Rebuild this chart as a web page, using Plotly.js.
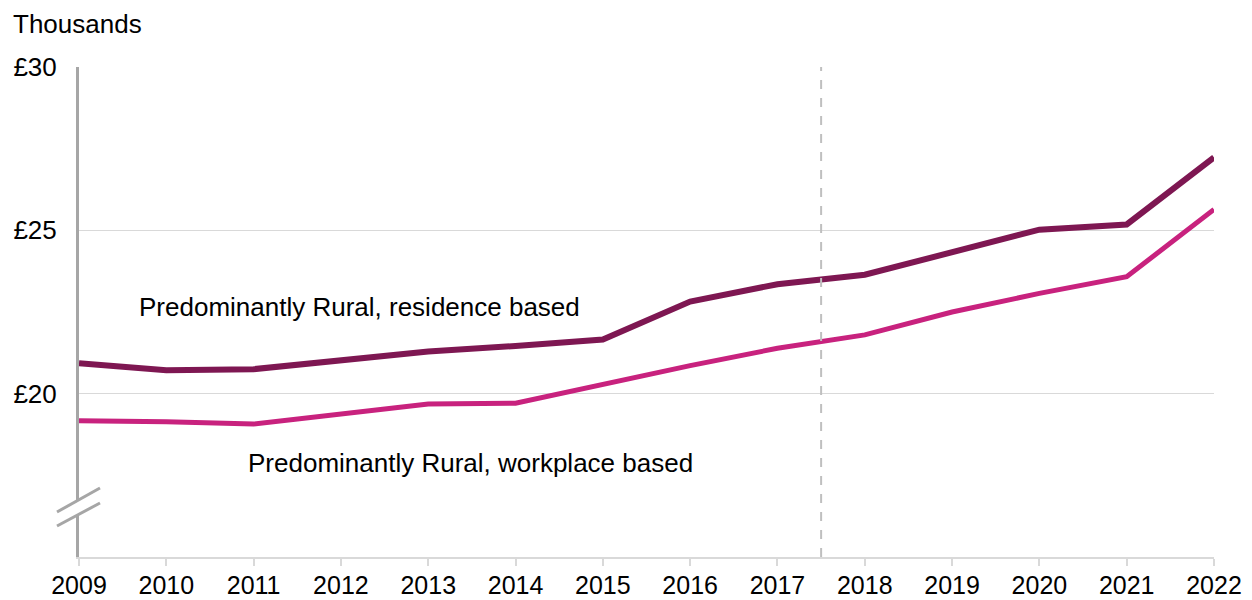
<!DOCTYPE html>
<html><head><meta charset="utf-8">
<script src="https://cdn.plot.ly/plotly-3.0.1.min.js"></script>
<style>html,body{margin:0;padding:0;background:#fff}#chart{width:1252px;height:600px}</style>
</head><body><div id="chart"></div>
<script>
const years = [2009,2010,2011,2012,2013,2014,2015,2016,2017,2018,2019,2020,2021,2022];
const residence = [20.93,20.72,20.75,21.02,21.29,21.46,21.66,22.82,23.35,23.64,24.33,25.02,25.18,27.23];
const workplace = [19.17,19.14,19.07,19.36,19.68,19.71,20.29,20.86,21.39,21.80,22.50,23.07,23.58,25.64];
const tickYears = years.map(String);
const yTickVals = [20,25,30];
const yTickText = ['£20','£25','£30'];
const seriesNames = ['Predominantly Rural, residence based','Predominantly Rural, workplace based'];
const dividerYear = 2017.5;

const L = 79, R = 1214, T = 67, B = 557;
const px = x => (x - L) / (R - L);
const py = y => (B - y) / (B - T);

const traces = [
  {x: years, y: residence, type:'scatter', mode:'lines', name: seriesNames[0],
   line:{color:'#7E1752', width:6}},
  {x: years, y: workplace, type:'scatter', mode:'lines', name: seriesNames[1],
   line:{color:'#C8227E', width:5}}
];

const font = {family:'"Liberation Sans", Arial, sans-serif', size:26, color:'#000'};
const xfont = {family:'"Liberation Sans", Arial, sans-serif', size:25, color:'#000'};

const layout = {
  width:1252, height:600,
  margin:{l:L, r:1252-R, t:T, b:600-B},
  paper_bgcolor:'#fff', plot_bgcolor:'#fff',
  showlegend:false,
  font: font,
  xaxis:{range:[2009,2022], tickvals:years, ticktext:tickYears,
    showgrid:false, zeroline:false, showline:true, linecolor:'#d9d9d9', linewidth:2,
    ticks:'outside', ticklen:7, tickcolor:'#d9d9d9', tickwidth:2, ticklabelstandoff:-2,
    tickfont:xfont, fixedrange:true},
  yaxis:{range:[15,30], tickvals:yTickVals, ticktext:yTickText,
    showgrid:true, gridcolor:'#d9d9d9', gridwidth:1.5, zeroline:false,
    showline:true, linecolor:'#a6a6a6', linewidth:3, ticks:'', ticklabelstandoff:14,
    tickfont:font, fixedrange:true},
  shapes:[
    {type:'line', xref:'x', yref:'paper', x0:dividerYear, x1:dividerYear, y0:0, y1:1,
     line:{color:'#bfbfbf', width:2, dash:'dash'}},
    {type:'path', xref:'paper', yref:'paper',
     path:`M ${px(57)} ${py(512)} L ${px(100)} ${py(488)} L ${px(100)} ${py(503)} L ${px(57)} ${py(526)} Z`,
     fillcolor:'#fff', line:{width:0}},
    {type:'line', xref:'paper', yref:'paper', x0:px(57), y0:py(512), x1:px(100), y1:py(488),
     line:{color:'#a6a6a6', width:3}},
    {type:'line', xref:'paper', yref:'paper', x0:px(57), y0:py(526), x1:px(100), y1:py(503),
     line:{color:'#a6a6a6', width:3}}
  ],
  annotations:[
    {text:'Thousands', xref:'paper', yref:'paper', x:px(11), y:py(24), xanchor:'left', yanchor:'middle',
     showarrow:false, font:font},
    {text:seriesNames[0], xref:'paper', yref:'paper', x:px(137), y:py(307), xanchor:'left', yanchor:'middle',
     showarrow:false, font:font},
    {text:seriesNames[1], xref:'paper', yref:'paper', x:px(246), y:py(463), xanchor:'left', yanchor:'middle',
     showarrow:false, font:font}
  ]
};
Plotly.newPlot('chart', traces, layout, {displayModeBar:false, staticPlot:true});
</script></body></html>
